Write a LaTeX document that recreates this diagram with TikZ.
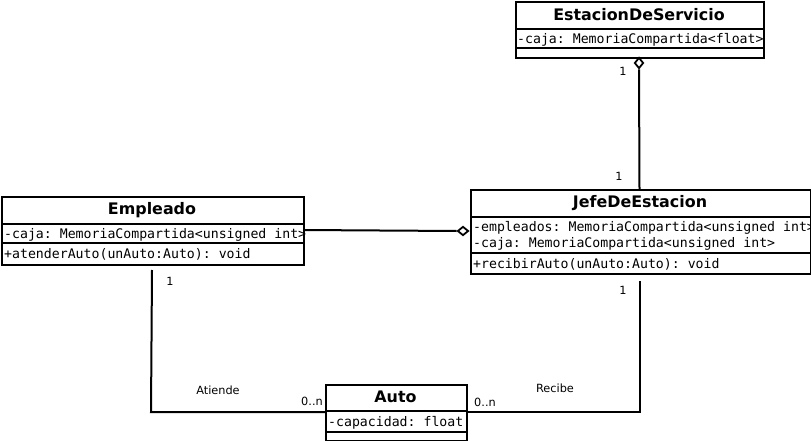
\documentclass[tikz,border=0pt]{standalone}
\usepackage{fontspec}
\setmainfont{DejaVu Sans}
\setmonofont{DejaVu Sans Mono}
\usetikzlibrary{shapes.geometric}
\begin{document}
\begin{tikzpicture}[x=1pt,y=-1pt,
  box/.style={draw=black,line width=1.7pt,inner sep=0pt,anchor=north west},
  ttl/.style={font=\fontsize{15.9}{18}\selectfont\bfseries,inner sep=0pt},
  attr/.style={font=\fontsize{13.2}{15}\ttfamily,inner sep=0pt,anchor=west},
  lbl/.style={font=\fontsize{11.3}{13}\selectfont,inner sep=0pt},
  conn/.style={draw=black,line width=2pt},
  sep/.style={draw=black,line width=1.7pt},
  agg/.style={draw=black,fill=white,line width=1.8pt,diamond,inner sep=0pt,minimum width=9pt,minimum height=11pt}]
\useasboundingbox (0,0) rectangle (811,441);
% EstacionDeServicio
\node[box,minimum width=248pt,minimum height=56pt] (est) at (515,1) {};
\node[ttl] (estT) at (639,15) {EstacionDeServicio};
\begin{scope}
\clip (515,1) rectangle (763,57);
\node[attr] (estA) at (517,39.5) {-caja: MemoriaCompartida<float>};
\end{scope}
\draw[sep] (515,29) -- (763,29);
\draw[sep] (515,48) -- (763,48);
% Empleado
\node[box,minimum width=302pt,minimum height=68pt] (emp) at (1,196) {};
\node[ttl] (empT) at (152,210) {Empleado};
\node[attr] (empA) at (4,234.5) {-caja: MemoriaCompartida<unsigned int>};
\node[attr] (empM) at (4,254) {+atenderAuto(unAuto:Auto): void};
\draw[sep] (1,224) -- (303,224);
\draw[sep] (1,243) -- (303,243);
% JefeDeEstacion
\node[box,minimum width=340pt,minimum height=84pt] (jefe) at (470,189) {};
\node[ttl] (jefeT) at (640,203) {JefeDeEstacion};
\begin{scope}
\clip (470,189) rectangle (809,273);
\node[attr] (jefeA1) at (473,227.5) {-empleados: MemoriaCompartida<unsigned int>};
\end{scope}
\node[attr] (jefeA2) at (473,243.5) {-caja: MemoriaCompartida<unsigned int>};
\node[attr] (jefeM) at (473,264.5) {+recibirAuto(unAuto:Auto): void};
\draw[sep] (470,217) -- (810,217);
\draw[sep] (470,253) -- (810,253);
% Auto
\node[box,minimum width=141pt,minimum height=56pt] (auto) at (325,384) {};
\node[ttl] (autoT) at (395.5,397) {Auto};
\node[attr] (autoA) at (328,422.5) {-capacidad: float};
\draw[sep] (325,411) -- (466,411);
\draw[sep] (325,432) -- (466,432);
% connectors
\node[agg] (d1) at (639,63) {};
\coordinate (c1) at (639.5,189);
\draw[conn] (d1.south) -- (c1);
\node[lbl] at (623,71) {1};
\node[lbl] at (619,176) {1};
\node[agg,minimum width=11pt,minimum height=9pt] (d2) at (463,231) {};
\coordinate (c2) at (303,230);
\draw[conn] (c2) -- (d2.west);
\coordinate (e1) at (152,270);
\coordinate (e2) at (151,412);
\coordinate (a1) at (325,412);
\draw[conn] (e1) -- (e2) -- (a1);
\node[lbl] at (170,281) {1};
\node[lbl] at (218,390) {Atiende};
\node[lbl] at (312,401) {0..n};
\coordinate (a2) at (466,412);
\coordinate (j1) at (640,412);
\coordinate (j2) at (640,281);
\draw[conn] (a2) -- (j1) -- (j2);
\node[lbl] at (485,402) {0..n};
\node[lbl] at (555,388) {Recibe};
\node[lbl] at (623,290) {1};
\end{tikzpicture}
\end{document}
